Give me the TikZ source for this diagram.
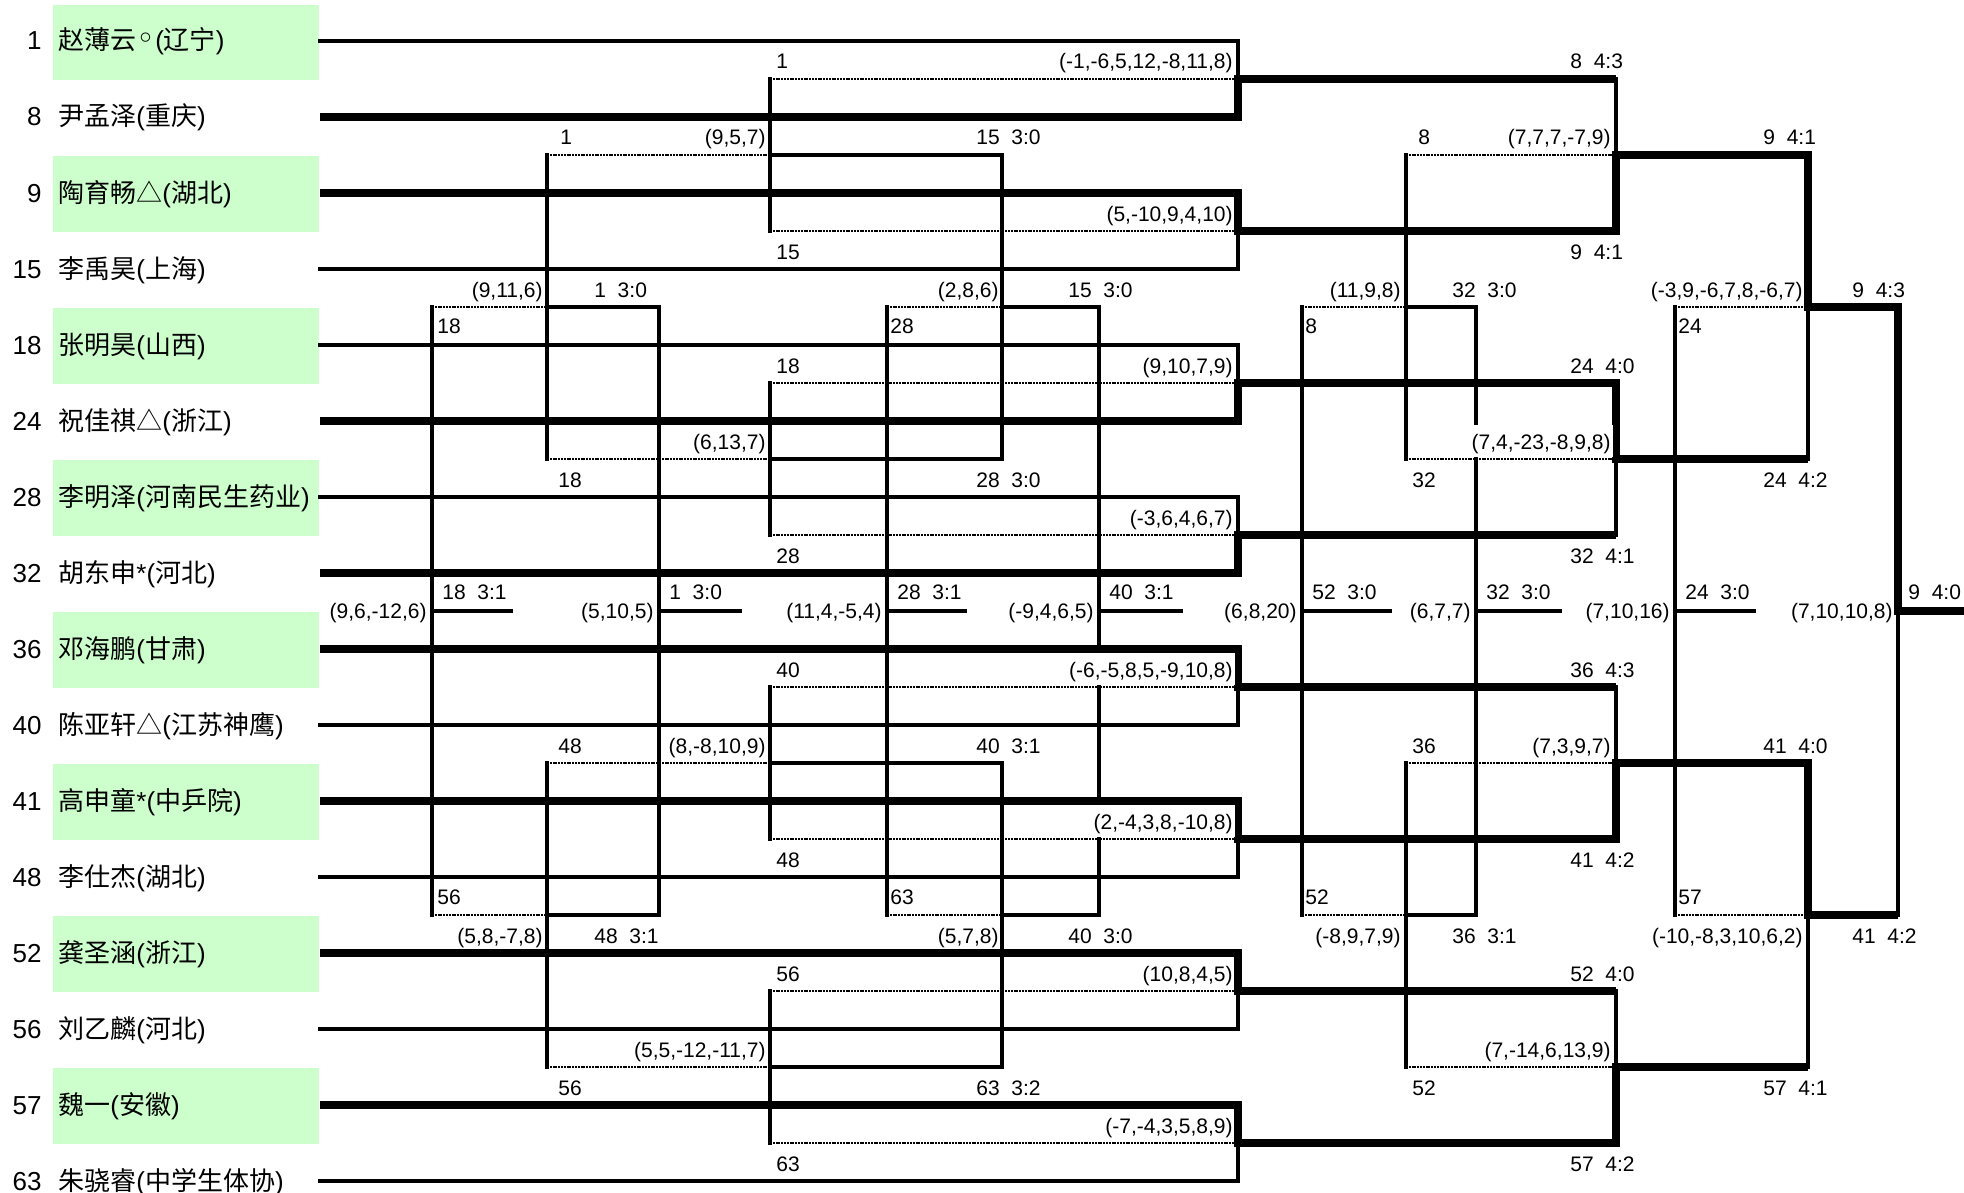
\documentclass[tikz,border=0pt]{standalone}
\usepackage{fontspec}
\setmainfont{Liberation Sans}
\newfontfamily\cjk{Noto Sans CJK SC}
\newfontfamily\dejavu{DejaVu Sans}
\newcommand{\zh}[1]{{\cjk #1}}
\definecolor{rowgreen}{RGB}{204,255,204}

\begin{document}
\begin{tikzpicture}[x=0.5pt,y=-0.5pt,line/.style={line width=1.6pt,line cap=rect},winner/.style={line width=3.7pt,line join=miter},loser/.style={line width=1.3pt,dash pattern=on 1pt off 0.4pt},band/.style={fill=rowgreen},seed/.style={anchor=base east,inner sep=0pt,font=\fontsize{13pt}{15pt}\selectfont},player/.style={anchor=base west,inner sep=0pt,font=\fontsize{13pt}{15pt}\selectfont},lab/.style={inner sep=0pt,font=\fontsize{10.5pt}{12pt}\selectfont},lw/.style={lab,anchor=base west},le/.style={lab,anchor=base east},cover/.style={fill=white,text height=12pt,text depth=4pt,inner xsep=1pt}]
\useasboundingbox (0,0) rectangle (1964,1193);
% green rows
\fill[band] (53,5) rectangle (319,80); \fill[band] (53,156) rectangle (319,232); \fill[band] (53,308) rectangle (319,384); \fill[band] (53,460) rectangle (319,536);
\fill[band] (53,612) rectangle (319,688); \fill[band] (53,764) rectangle (319,840); \fill[band] (53,916) rectangle (319,992); \fill[band] (53,1068) rectangle (319,1144);
% players
\node[seed] (s1) at (42,50) {1}; \node[player] (p1) at (58,50) {\zh{赵薄云}{\dejavu\fontsize{16pt}{16pt}\selectfont ◦}(\zh{辽宁})};
\node[seed] (s8) at (42,126) {8}; \node[player] (p8) at (58,126) {\zh{尹孟泽}(\zh{重庆})};
\node[seed] (s9) at (42,202) {9}; \node[player] (p9) at (58,202) {\zh{陶育畅△}(\zh{湖北})};
\node[seed] (s15) at (42,278) {15}; \node[player] (p15) at (58,278) {\zh{李禹昊}(\zh{上海})};
\node[seed] (s18) at (42,354) {18}; \node[player] (p18) at (58,354) {\zh{张明昊}(\zh{山西})};
\node[seed] (s24) at (42,430) {24}; \node[player] (p24) at (58,430) {\zh{祝佳祺△}(\zh{浙江})};
\node[seed] (s28) at (42,506) {28}; \node[player] (p28) at (58,506) {\zh{李明泽}(\zh{河南民生药业})};
\node[seed] (s32) at (42,582) {32}; \node[player] (p32) at (58,582) {\zh{胡东申}*(\zh{河北})};
\node[seed] (s36) at (42,658) {36}; \node[player] (p36) at (58,658) {\zh{邓海鹏}(\zh{甘肃})};
\node[seed] (s40) at (42,734) {40}; \node[player] (p40) at (58,734) {\zh{陈亚轩△}(\zh{江苏神鹰})};
\node[seed] (s41) at (42,810) {41}; \node[player] (p41) at (58,810) {\zh{高申童}*(\zh{中乒院})};
\node[seed] (s48) at (42,886) {48}; \node[player] (p48) at (58,886) {\zh{李仕杰}(\zh{湖北})};
\node[seed] (s52) at (42,962) {52}; \node[player] (p52) at (58,962) {\zh{龚圣涵}(\zh{浙江})};
\node[seed] (s56) at (42,1038) {56}; \node[player] (p56) at (58,1038) {\zh{刘乙麟}(\zh{河北})};
\node[seed] (s57) at (42,1114) {57}; \node[player] (p57) at (58,1114) {\zh{魏一}(\zh{安徽})};
\node[seed] (s63) at (42,1190) {63}; \node[player] (p63) at (58,1190) {\zh{朱骁睿}(\zh{中学生体协})};
% losers routed back
\draw[loser] (770,79) -- (1238,79); \draw[loser] (770,231) -- (1238,231); \draw[loser] (770,383) -- (1238,383); \draw[loser] (770,535) -- (1238,535);
\draw[loser] (770,687) -- (1238,687); \draw[loser] (770,839) -- (1238,839); \draw[loser] (770,991) -- (1238,991); \draw[loser] (770,1143) -- (1238,1143);
\draw[loser] (547,155) -- (770,155); \draw[loser] (547,459) -- (770,459); \draw[loser] (547,763) -- (770,763); \draw[loser] (547,1067) -- (770,1067);
\draw[loser] (432,307) -- (547,307); \draw[loser] (432,915) -- (547,915); \draw[loser] (887,307) -- (1002,307); \draw[loser] (887,915) -- (1002,915);
\draw[loser] (1406,155) -- (1616,155); \draw[loser] (1406,459) -- (1616,459); \draw[loser] (1406,763) -- (1616,763); \draw[loser] (1406,1067) -- (1616,1067);
\draw[loser] (1302,307) -- (1406,307); \draw[loser] (1302,915) -- (1406,915); \draw[loser] (1675,307) -- (1808,307); \draw[loser] (1675,915) -- (1808,915);
% main draw, thin parts
\draw[line] (320,41) -- (1238,41) -- (1238,79); \draw[line] (320,269) -- (1238,269) -- (1238,231);
\draw[line] (320,345) -- (1238,345) -- (1238,383); \draw[line] (320,497) -- (1238,497) -- (1238,535);
\draw[line] (320,725) -- (1238,725) -- (1238,687); \draw[line] (320,877) -- (1238,877) -- (1238,839);
\draw[line] (320,1029) -- (1238,1029) -- (1238,991); \draw[line] (320,1181) -- (1238,1181) -- (1238,1143);
\draw[line] (1616,79) -- (1616,155); \draw[line] (1616,459) -- (1616,535); \draw[line] (1616,687) -- (1616,763); \draw[line] (1616,991) -- (1616,1067);
\draw[line] (1808,307) -- (1808,459); \draw[line] (1808,915) -- (1808,1067); \draw[line] (1898,611) -- (1898,915);
% ranking matches
\draw[line] (770,79) -- (770,231); \draw[line] (770,383) -- (770,535); \draw[line] (770,687) -- (770,839); \draw[line] (770,991) -- (770,1143);
\draw[line] (770,155) -- (1002,155) -- (1002,459) -- (770,459); \draw[line] (770,763) -- (1002,763) -- (1002,1067) -- (770,1067);
\draw[line] (547,155) -- (547,459); \draw[line] (547,763) -- (547,1067); \draw[line] (547,307) -- (659,307) -- (659,915) -- (547,915); \draw[line] (432,307) -- (432,915);
\draw[line] (1002,307) -- (1099,307) -- (1099,915) -- (1002,915); \draw[line] (887,307) -- (887,915);
\draw[line] (1406,155) -- (1406,459); \draw[line] (1406,763) -- (1406,1067); \draw[line] (1406,307) -- (1476,307) -- (1476,915) -- (1406,915);
\draw[line] (1302,307) -- (1302,915); \draw[line] (1675,307) -- (1675,915);
\draw[line] (432,611) -- (511,611); \draw[line] (659,611) -- (740,611); \draw[line] (887,611) -- (965,611); \draw[line] (1099,611) -- (1181,611);
\draw[line] (1302,611) -- (1390,611); \draw[line] (1476,611) -- (1560,611); \draw[line] (1675,611) -- (1754,611);
% winners
\draw[winner] (320,117) -- (1238,117) -- (1238,79) -- (1616,79);
\draw[winner] (320,193) -- (1238,193) -- (1238,231) -- (1616,231) -- (1616,155) -- (1808,155) -- (1808,307) -- (1898,307) -- (1898,611) -- (1964,611);
\draw[winner] (320,421) -- (1238,421) -- (1238,383) -- (1616,383) -- (1616,459) -- (1808,459);
\draw[winner] (320,573) -- (1238,573) -- (1238,535) -- (1616,535);
\draw[winner] (320,649) -- (1238,649) -- (1238,687) -- (1616,687);
\draw[winner] (320,801) -- (1238,801) -- (1238,839) -- (1616,839) -- (1616,763) -- (1808,763) -- (1808,915) -- (1898,915);
\draw[winner] (320,953) -- (1238,953) -- (1238,991) -- (1616,991);
\draw[winner] (320,1105) -- (1238,1105) -- (1238,1143) -- (1616,1143) -- (1616,1067) -- (1808,1067);
% main draw labels
\node[le] (m1) at (1233,69) {(-1,-6,5,12,-8,11,8)}; \node[le] (m2) at (1233,221) {(5,-10,9,4,10)}; \node[le] (m3) at (1233,373) {(9,10,7,9)}; \node[le] (m4) at (1233,525) {(-3,6,4,6,7)};
\node[le,cover] (m5) at (1235,677) {(-6,-5,8,5,-9,10,8)}; \node[le,cover] (m6) at (1235,829) {(2,-4,3,8,-10,8)}; \node[le] (m7) at (1233,981) {(10,8,4,5)}; \node[le] (m8) at (1233,1133) {(-7,-4,3,5,8,9)};
\node[le] (q1) at (1611,145) {(7,7,7,-7,9)}; \node[le,cover] (q2) at (1613,449) {(7,4,-23,-8,9,8)}; \node[le] (q3) at (1611,753) {(7,3,9,7)}; \node[le] (q4) at (1611,1057) {(7,-14,6,13,9)};
\node[le] (h1) at (1803,297) {(-3,9,-6,7,8,-6,7)}; \node[le] (h2) at (1803,943) {(-10,-8,3,10,6,2)};
\node[lw] (r1) at (1570,69) {8~~4:3}; \node[lw] (r2) at (1570,259) {9~~4:1}; \node[lw] (r3) at (1570,373) {24~~4:0}; \node[lw] (r4) at (1570,563) {32~~4:1};
\node[lw] (r5) at (1570,677) {36~~4:3}; \node[lw] (r6) at (1570,867) {41~~4:2}; \node[lw] (r7) at (1570,981) {52~~4:0}; \node[lw] (r8) at (1570,1171) {57~~4:2};
\node[lw] (t1) at (1763,145) {9~~4:1}; \node[lw] (t2) at (1763,487) {24~~4:2}; \node[lw] (t3) at (1763,753) {41~~4:0}; \node[lw] (t4) at (1763,1095) {57~~4:1};
\node[lw] (f1) at (1852,297) {9~~4:3}; \node[lw] (f2) at (1852,943) {41~~4:2};
% ranking labels, left half
\node[lw] (a1) at (776,69) {1}; \node[lw] (a2) at (776,259) {15}; \node[lw] (a3) at (776,373) {18}; \node[lw] (a4) at (776,563) {28};
\node[lw] (a5) at (776,677) {40}; \node[lw] (a6) at (776,867) {48}; \node[lw] (a7) at (776,981) {56}; \node[lw] (a8) at (776,1171) {63};
\node[le] (b1) at (766,145) {(9,5,7)}; \node[le] (b2) at (766,449) {(6,13,7)}; \node[le] (b3) at (766,753) {(8,-8,10,9)}; \node[le] (b4) at (766,1057) {(5,5,-12,-11,7)};
\node[lw] (c1) at (976,145) {15~~3:0}; \node[lw] (c2) at (976,487) {28~~3:0}; \node[lw] (c3) at (976,753) {40~~3:1}; \node[lw] (c4) at (976,1095) {63~~3:2};
\node[lw] (d1) at (560,145) {1}; \node[lw] (d2) at (558,487) {18}; \node[lw] (d3) at (558,753) {48}; \node[lw] (d4) at (558,1095) {56};
\node[le] (e1) at (543,297) {(9,11,6)}; \node[le] (e2) at (543,943) {(5,8,-7,8)}; \node[lw] (g1) at (594,297) {1~~3:0}; \node[lw] (g2) at (594,943) {48~~3:1};
\node[lw] (i1) at (437,333) {18}; \node[lw] (i2) at (437,904) {56}; \node[lw] (i3) at (890,333) {28}; \node[lw] (i4) at (890,904) {63};
\node[le] (j1) at (999,297) {(2,8,6)}; \node[le] (j2) at (999,943) {(5,7,8)}; \node[lw] (k1) at (1068,297) {15~~3:0}; \node[lw] (k2) at (1068,943) {40~~3:0};
% ranking labels, right half
\node[lw] (u1) at (1418,145) {8}; \node[lw] (u2) at (1412,487) {32}; \node[lw] (u3) at (1412,753) {36}; \node[lw] (u4) at (1412,1095) {52};
\node[le] (v1) at (1401,297) {(11,9,8)}; \node[le] (v2) at (1401,943) {(-8,9,7,9)}; \node[lw] (x1) at (1452,297) {32~~3:0}; \node[lw] (x2) at (1452,943) {36~~3:1};
\node[lw] (i5) at (1305,333) {8}; \node[lw] (i6) at (1305,904) {52}; \node[lw] (i7) at (1678,333) {24}; \node[lw] (i8) at (1678,904) {57};
% middle row
\node[le] (z1) at (427,618) {(9,6,-12,6)}; \node[le] (z2) at (654,618) {(5,10,5)}; \node[le] (z3) at (882,618) {(11,4,-5,4)}; \node[le] (z4) at (1094,618) {(-9,4,6,5)};
\node[le] (z5) at (1297,618) {(6,8,20)}; \node[le] (z6) at (1471,618) {(6,7,7)}; \node[le] (z7) at (1670,618) {(7,10,16)}; \node[le] (z8) at (1893,618) {(7,10,10,8)};
\node[lw] (y1) at (442,599) {18~~3:1}; \node[lw] (y2) at (669,599) {1~~3:0}; \node[lw] (y3) at (897,599) {28~~3:1}; \node[lw] (y4) at (1109,599) {40~~3:1};
\node[lw] (y5) at (1312,599) {52~~3:0}; \node[lw] (y6) at (1486,599) {32~~3:0}; \node[lw] (y7) at (1685,599) {24~~3:0}; \node[lw] (y8) at (1908,599) {9~~4:0};
\end{tikzpicture}
\end{document}
